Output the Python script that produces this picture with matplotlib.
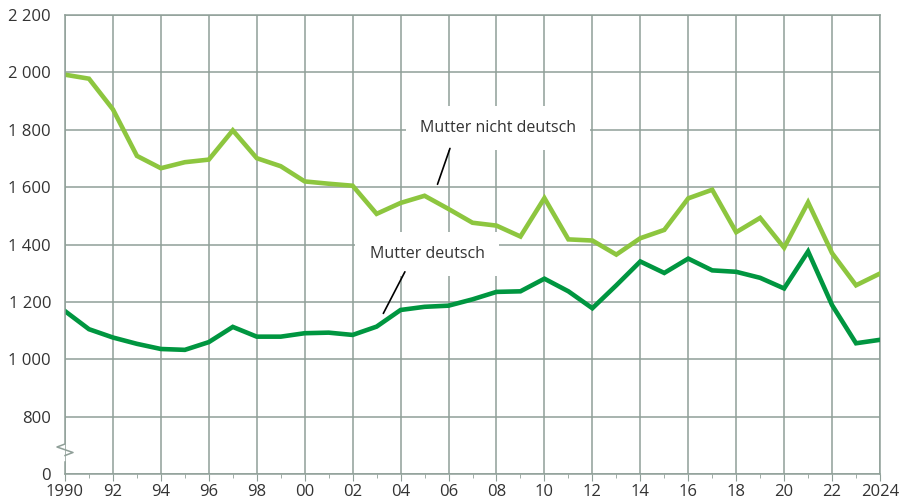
import matplotlib
matplotlib.use("Agg")
import matplotlib.pyplot as plt
from matplotlib.lines import Line2D

years = list(range(1990, 2025))
nicht_deutsch = [1992, 1978, 1871, 1709, 1666, 1687, 1696, 1798, 1701, 1673,
                 1620, 1612, 1605, 1507, 1545, 1570, 1524, 1476, 1466, 1428,
                 1562, 1418, 1414, 1365, 1422, 1451, 1561, 1591, 1443, 1493,
                 1389, 1547, 1370, 1258, 1299]
deutsch = [1168, 1105, 1076, 1054, 1036, 1033, 1060, 1113, 1079, 1079,
           1091, 1093, 1085, 1114, 1172, 1183, 1187, 1209, 1235, 1237,
           1281, 1237, 1178, 1258, 1341, 1301, 1351, 1310, 1305, 1284,
           1247, 1376, 1189, 1056, 1068]
y_ticks = [600, 800, 1000, 1200, 1400, 1600, 1800, 2000, 2200]
y_labels = ["0", "800", "1 000", "1 200", "1 400", "1 600", "1 800", "2 000", "2 200"]
x_ticks = list(range(1990, 2025, 2))
x_labels = ["1990"] + [f"{y % 100:02d}" for y in x_ticks[1:-1]] + ["2024"]

plt.rcParams['font.family'] = ['Open Sans', 'DejaVu Sans']
FS = 12
GRID = "#8f9f98"
LIGHT = "#8dc63f"
DARK = "#009640"
TXT = "#333333"

fig = plt.figure(figsize=(9, 5.03), dpi=100)
ax = fig.add_axes([65/900, 1-474.1/503, 815/900, (474.1-15)/503])
ax.set_xlim(1990, 2024)
ax.set_ylim(600, 2200)

ax.set_yticks(y_ticks)
ax.set_yticklabels(y_labels, fontsize=FS, color=TXT)
ax.set_xticks(x_ticks)
ax.set_xticklabels(x_labels, fontsize=FS, color=TXT)
ax.set_xticks(years, minor=True)
ax.tick_params(axis='y', length=0, pad=10)
ax.tick_params(axis='x', which='major', length=5, color=GRID, pad=2)
ax.tick_params(axis='x', which='minor', length=3, color=GRID)

ax.grid(True, which='major', color=GRID, linewidth=1.1)
ax.set_axisbelow(True)
for s in ['top', 'right']:
    ax.spines[s].set_color(GRID)
    ax.spines[s].set_linewidth(1.1)
ax.spines['bottom'].set_color(GRID)
ax.spines['bottom'].set_linewidth(1.1)
ax.spines['left'].set_visible(False)

ax.plot(years, nicht_deutsch, color=LIGHT, linewidth=3.3, solid_joinstyle='miter', zorder=3)
ax.plot(years, deutsch, color=DARK, linewidth=3.3, solid_joinstyle='miter', zorder=3)

# left spine with break (pixel coords)
def px(x, y):
    return (x/900, 1 - y/503)
pts_top = [(65, 15), (65, 444), (57, 447), (73, 452.5), (65, 455.5)]
pts_bot = [(65, 462), (65, 474)]
for pts in (pts_top, pts_bot):
    xs = [px(*p)[0] for p in pts]
    ys = [px(*p)[1] for p in pts]
    fig.add_artist(Line2D(xs, ys, color=GRID, linewidth=1.1, transform=fig.transFigure))

# labels with white boxes
ax.text(2008.06, 1806, "Mutter nicht deutsch", fontsize=11.5, color=TXT,
        ha='center', va='center', zorder=4,
        bbox=dict(boxstyle='square,pad=0.9', fc='white', ec='none'))
ax.text(2005.1, 1367, "Mutter deutsch", fontsize=11.5, color=TXT,
        ha='center', va='center', zorder=4,
        bbox=dict(boxstyle='square,pad=0.9', fc='white', ec='none'))

ax.annotate("", xy=(2005.54, 1610), xytext=(2006.06, 1735),
            arrowprops=dict(arrowstyle='-', color='black', lw=1.2,
                            shrinkA=0, shrinkB=0), zorder=5)
ax.annotate("", xy=(2003.28, 1160), xytext=(2004.18, 1305),
            arrowprops=dict(arrowstyle='-', color='black', lw=1.2,
                            shrinkA=0, shrinkB=0), zorder=5)

fig.savefig("out.png", dpi=100)
